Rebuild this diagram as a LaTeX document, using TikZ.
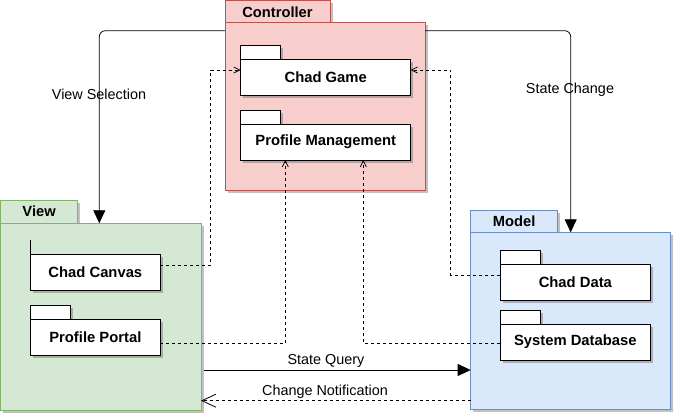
\documentclass[tikz,border=0pt]{standalone}
\usepackage{fontspec}
\setmainfont{Liberation Sans}
\usetikzlibrary{arrows.meta,shadows}
\definecolor{ctrlfill}{HTML}{F8CECC}
\definecolor{ctrldraw}{HTML}{B85450}
\definecolor{viewfill}{HTML}{D5E8D4}
\definecolor{viewdraw}{HTML}{82B366}
\definecolor{modelfill}{HTML}{DAE8FC}
\definecolor{modeldraw}{HTML}{6C8EBF}
\begin{document}
\begin{tikzpicture}[x=1pt,y=-1pt,
  font=\fontsize{14.4pt}{17pt}\selectfont,
  shadowed/.style={drop shadow={shadow xshift=2.5pt,shadow yshift=-2.5pt,opacity=0.35,fill=black!70}},
  box/.style={draw, line width=0.8pt, inner sep=0pt, outer sep=0pt, anchor=north west, shadowed},
  ctrlbox/.style={box, fill=ctrlfill, draw=ctrldraw},
  viewbox/.style={box, fill=viewfill, draw=viewdraw},
  modelbox/.style={box, fill=modelfill, draw=modeldraw},
  inner/.style={box, fill=white, draw=black, font=\fontsize{14.8pt}{17pt}\selectfont\bfseries},
  tabtitle/.style={font=\fontsize{14.7pt}{17pt}\selectfont\bfseries},
  lbl/.style={inner sep=1pt},
  solidarrow/.style={line width=0.8pt, -{Triangle[length=13pt,width=12pt]}},
  dep/.style={line width=0.8pt, dash pattern=on 3pt off 3pt, -{Straight Barb[length=6pt,width=6pt,line width=0.8pt]}},
  depbig/.style={line width=0.8pt, dash pattern=on 3pt off 3pt, -{Straight Barb[length=14pt,width=13pt,line width=0.8pt]}},
]
\useasboundingbox (0,0) rectangle (673,415);

% Controller package
\node[ctrlbox, tabtitle, minimum width=105, minimum height=22.7] (ctrltab) at (225,0.5) {Controller};
\node[ctrlbox, minimum width=200, minimum height=167.3] (ctrl) at (225,22.7) {};
\node[inner, minimum width=40, minimum height=14.3] (gametab) at (240.7,45) {};
\node[inner, minimum width=170, minimum height=36] (game) at (240.7,59.3) {Chad Game};
\node[inner, minimum width=40, minimum height=14.3] (pmtab) at (240.7,110) {};
\node[inner, minimum width=170, minimum height=35.7] (pm) at (240.7,124.3) {Profile Management};

% View package
\node[viewbox, tabtitle, minimum width=77.2, minimum height=23.3] (viewtab) at (0.5,200) {View};
\node[viewbox, minimum width=200.5, minimum height=186.7] (view) at (0.5,223.3) {};
\coordinate (canvastabtop) at (30.7,240);
\node[inner, minimum width=129.3, minimum height=36.4] (canvas) at (30.7,254.3) {Chad Canvas};
\draw[line width=0.8pt] (canvastabtop) -- (canvas.north west);
\node[inner, minimum width=40, minimum height=14.3] (portaltab) at (30.7,305) {};
\node[inner, minimum width=129.3, minimum height=35.7] (portal) at (30.7,319.3) {Profile Portal};

% Model package
\node[modelbox, tabtitle, minimum width=87, minimum height=22.3] (modeltab) at (470.7,210) {Model};
\node[modelbox, minimum width=200, minimum height=177] (model) at (470.7,232.3) {};
\node[inner, minimum width=40.7, minimum height=14.3] (cdatatab) at (500,250) {};
\node[inner, minimum width=150.7, minimum height=36.4] (cdata) at (500,264.3) {Chad Data};
\node[inner, minimum width=40.7, minimum height=14.3] (sysdbtab) at (500,310) {};
\node[inner, minimum width=150.7, minimum height=35.7] (sysdb) at (500,324.3) {System Database};

% Solid connectors
\draw[solidarrow, rounded corners=6pt] (ctrl.north west |- 0,30.7) -| (view.north west -| 99.3,0);
\draw[solidarrow, rounded corners=6pt] (ctrl.north east |- 0,30.7) -| (model.north west -| 570.7,0);
\node[lbl] (vsl) at (99,94) {View Selection};
\node[lbl] (scl) at (570,90) {State Change};

\coordinate (sqstart) at (204.3,370);
\draw[solidarrow] (sqstart) -- (model.west |- sqstart);
\node[lbl] (sql) at (326,361) {State Query};
\draw[depbig] (model.west |- 0,400.7) -- (view.east |- 0,400.7);
\node[lbl] (cnl) at (325,391.5) {Change Notification};

% Dependencies
\draw[dep] (canvas.east |- 0,265.3) -- (210.7,265.3) -- (210.7,70) -- (game.west |- 0,70);
\draw[dep] (portal.east |- 0,343.3) -| (pm.south -| 285.3,0);
\draw[dep] (cdata.west |- 0,275) -- (450.7,275) -- (450.7,70) -- (game.east |- 0,70);
\draw[dep] (sysdb.west |- 0,343.3) -| (pm.south -| 363.3,0);
\end{tikzpicture}
\end{document}
